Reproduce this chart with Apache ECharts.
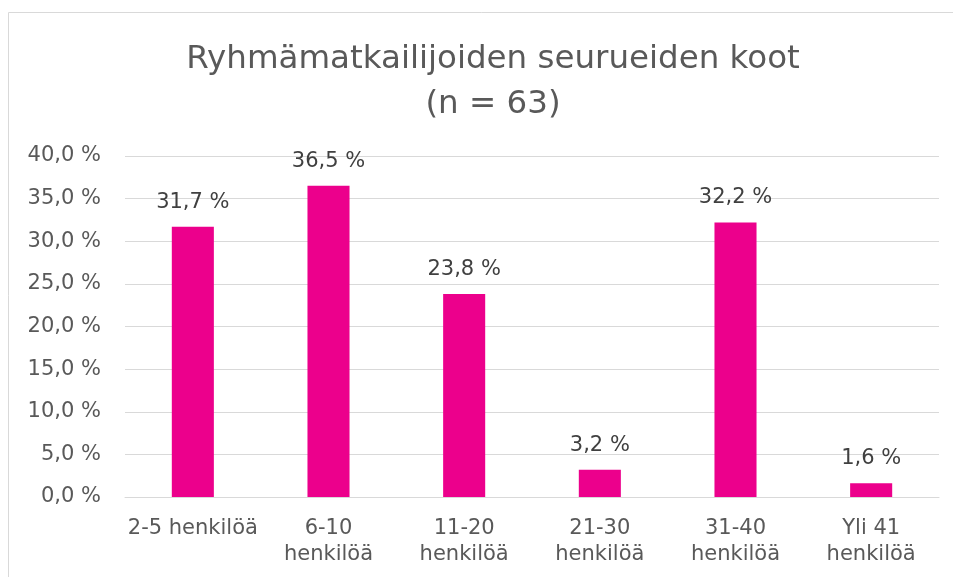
<!DOCTYPE html>
<html><head><meta charset="utf-8">
<script src="https://cdn.jsdelivr.net/npm/echarts@6/dist/echarts.min.js"></script>
<style>html,body{margin:0;padding:0;background:#fff;}#c{width:953px;height:577px;}</style>
</head><body><div id="c"></div>
<script>
const categories = ['2-5 henkilöä', '6-10\nhenkilöä', '11-20\nhenkilöä', '21-30\nhenkilöä', '31-40\nhenkilöä', 'Yli 41\nhenkilöä'];
const values = [31.7, 36.5, 23.8, 3.2, 32.2, 1.6];
const titleText = 'Ryhmämatkailijoiden seurueiden koot\n(n = 63)';
const fmt = v => v.toFixed(1).replace('.', ',') + ' %';
const FONT = 'DejaVu Sans';
const chart = echarts.init(document.getElementById('c'), null, {renderer: 'canvas'});
chart.setOption({
  animation: false,
  graphic: [{type: 'rect', shape: {x: 8.5, y: 12.5, width: 1000, height: 700}, style: {fill: 'none', stroke: '#d9d9d9', lineWidth: 1}, silent: true, z: -1}],
  title: {text: titleText, left: 488, top: 32, textAlign: 'center',
    textStyle: {fontFamily: FONT, fontSize: 32.5, fontWeight: 'normal', color: '#595959', lineHeight: 45}},
  grid: {left: 125, right: 14, top: 156, bottom: 80, containLabel: false},
  xAxis: {type: 'category', data: categories,
    axisLine: {show: true, lineStyle: {color: '#d9d9d9', width: 1}},
    axisTick: {show: false},
    axisLabel: {fontFamily: FONT, fontSize: 21, color: '#595959', lineHeight: 26, margin: 19, interval: 0}},
  yAxis: {type: 'value', min: 0, max: 40, interval: 5,
    axisLine: {show: false}, axisTick: {show: false},
    splitLine: {lineStyle: {color: '#d9d9d9', width: 1}},
    axisLabel: {fontFamily: FONT, fontSize: 21, color: '#595959', margin: 24, formatter: v => fmt(v)}},
  series: [{type: 'bar', data: values, barWidth: '31%',
    itemStyle: {color: '#EC008C'},
    label: {show: true, position: 'top', distance: 14, fontFamily: FONT, fontSize: 21, color: '#404040', formatter: p => fmt(p.value)}}]
});
</script></body></html>
